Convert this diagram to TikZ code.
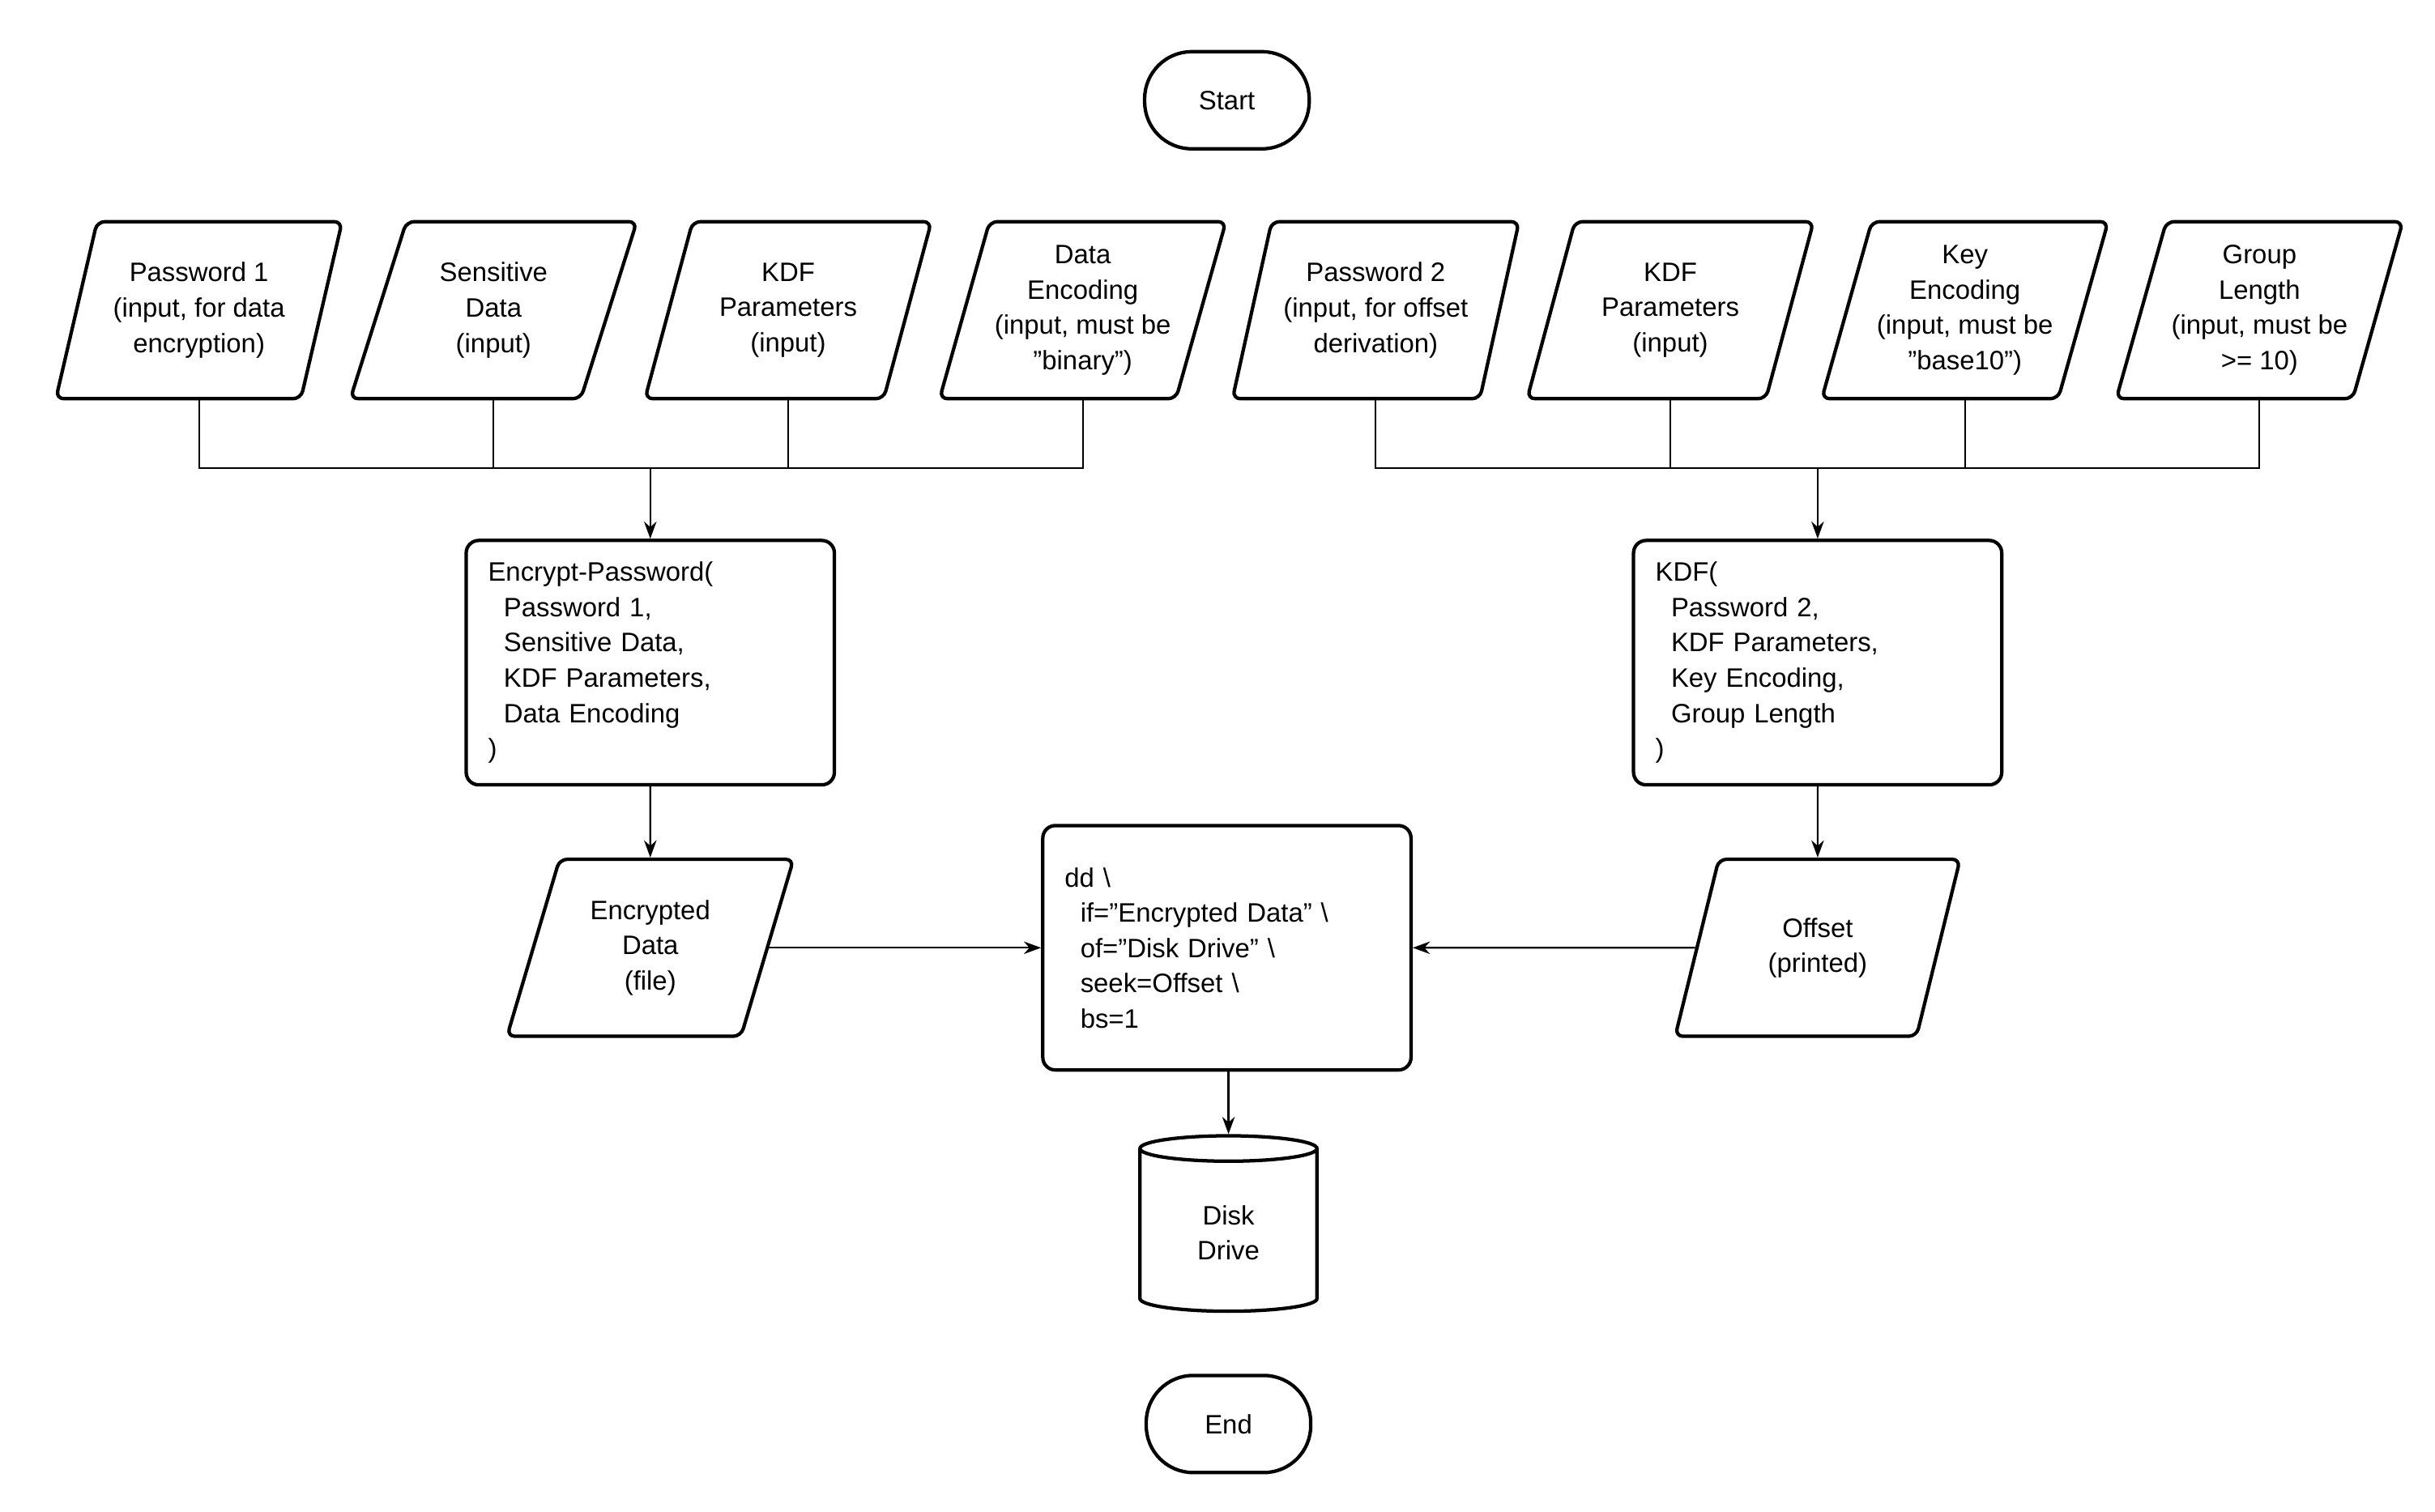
\documentclass[tikz,border=0pt]{standalone}
\usepackage{fontspec}
\setmainfont{Liberation Sans}
\usetikzlibrary{shapes.geometric, arrows.meta, positioning}

\tikzset{
  base/.style={draw=black, line width=2.2pt, font=\fontsize{17}{22.5}\selectfont},
  term/.style={base, rounded corners=30pt, minimum width=105pt, minimum height=62pt},
  io/.style={base, trapezium, trapezium left angle=70, trapezium right angle=110,
    trapezium stretches=true, minimum width=183pt, minimum height=113pt,
    rounded corners=5pt, align=center, inner sep=0pt},
  proc/.style={base, rounded corners=8pt, minimum width=235pt, minimum height=156pt,
    text width=207pt, align=left},
  store/.style={base, cylinder, shape border rotate=90, shape aspect=0.35,
    minimum width=113pt, minimum height=112pt, align=center},
  flow/.style={line width=1.1pt, -{Stealth[length=11pt, width=8pt]}},
  bus/.style={line width=1.1pt}
}
\newcommand{\ind}{\hspace*{10pt}}

\begin{document}
\begin{tikzpicture}[x=1pt, y=-1pt]
  \useasboundingbox (0,0) rectangle (1554,965);
  \node[term] (start) at (783,64) {Start};
  % inputs
  \node[io] (pwa) at (127,198) {Password 1\\(input, for data\\encryption)};
  \node[io] (data) at (315,198) {Sensitive\\Data\\(input)};
  \node[io] (kdfa) at (503,198) {KDF\\Parameters\\(input)};
  \node[io] (denc) at (691,198) {Data\\Encoding\\(input, must be\\"binary")};
  \node[io] (pwb) at (878,198) {Password 2\\(input, for offset\\derivation)};
  \node[io] (kdfb) at (1066,198) {KDF\\Parameters\\(input)};
  \node[io] (kenc) at (1254,198) {Key\\Encoding\\(input, must be\\"base10")};
  \node[io] (glen) at (1442,198) {Group\\Length\\(input, must be\\>= 10)};
  \coordinate (busl) at (415,299);
  \coordinate (busr) at (1160,299);
  % processing
  \node[proc] (encpw) at (415,423) {Encrypt-Password(\\\ind Password 1,\\\ind Sensitive Data,\\\ind KDF Parameters,\\\ind Data Encoding\\)};
  \node[proc] (kdf) at (1160,423) {KDF(\\\ind Password 2,\\\ind KDF Parameters,\\\ind Key Encoding,\\\ind Group Length\\)};
  \node[io] (encd) at (415,605) {Encrypted\\Data\\(file)};
  \node[io] (offset) at (1160,605) {Offset\\(printed)};
  \node[proc] (dd) at (783,605) {dd \textbackslash\\\ind if="Encrypted Data" \textbackslash\\\ind of="Disk Drive" \textbackslash\\\ind seek=Offset \textbackslash\\\ind bs=1};
  \node[store] (disk) at (784,787) {Disk\\Drive};
  \node[term] (end) at (784,909) {End};

  \draw[bus] (pwa.south) |- (denc.south |- busl) -- (denc.south);
  \draw[bus] (data.south) -- (data.south |- busl);
  \draw[bus] (kdfa.south) -- (kdfa.south |- busl);
  \draw[bus] (pwb.south) |- (glen.south |- busr) -- (glen.south);
  \draw[bus] (kdfb.south) -- (kdfb.south |- busr);
  \draw[bus] (kenc.south) -- (kenc.south |- busr);
  \draw[flow] (busl) -- (encpw.north);
  \draw[flow] (busr) -- (kdf.north);
  \draw[flow] (encpw.south) -- (encd.north);
  \draw[flow] (kdf.south) -- (offset.north);
  \draw[flow] (encd.east) -- (dd.west);
  \draw[flow] (offset.west) -- (dd.east);
  \draw[flow] (dd.south -| disk.north) -- (disk.north);
\end{tikzpicture}
\end{document}
